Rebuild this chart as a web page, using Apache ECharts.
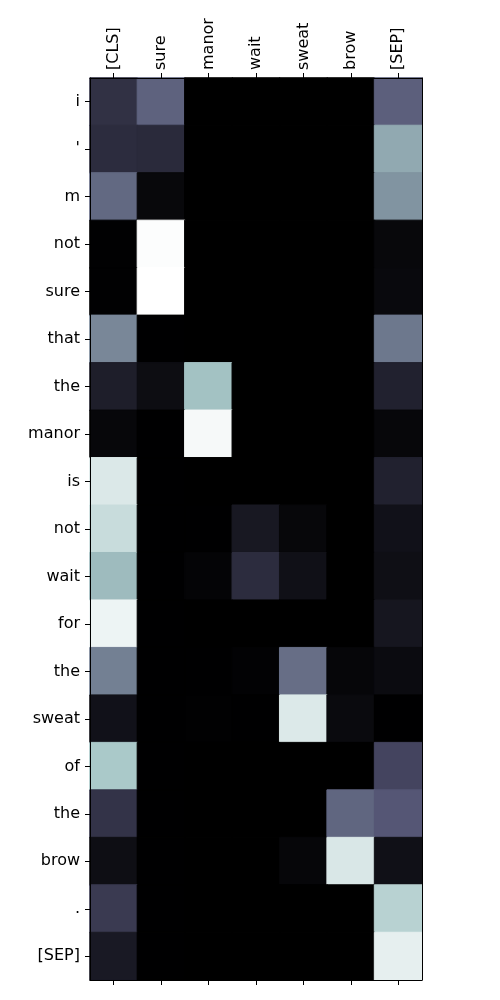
<!DOCTYPE html>
<html><head><meta charset="utf-8">
<script src="https://cdn.jsdelivr.net/npm/echarts@6/dist/echarts.min.js"></script>
<style>html,body{margin:0;padding:0;background:#fff}#c{width:500px;height:1000px}</style>
</head><body><div id="c"></div>
<script>
const colLabels = ["[CLS]","sure","manor","wait","sweat","brow","[SEP]"];
const rowLabels = ["i","'","m","not","sure","that","the","manor","is","not","wait","for","the","sweat","of","the","brow",".","[SEP]"];
// attention weights, one array per row, columns follow colLabels
const r00 = [0.22,0.42,0,0,0,0,0.41];
const r01 = [0.20,0.19,0,0,0,0,0.65];
const r02 = [0.44,0.035,0,0,0,0,0.58];
const r03 = [0.005,0.99,0,0,0,0,0.035];
const r04 = [0.005,1.0,0,0,0,0,0.04];
const r05 = [0.54,0.002,0,0,0,0,0.49];
const r06 = [0.135,0.06,0.73,0,0,0,0.15];
const r07 = [0.03,0.002,0.974,0,0,0,0.03];
const r08 = [0.896,0.002,0,0,0,0,0.15];
const r09 = [0.842,0.002,0.002,0.11,0.03,0,0.08];
const r10 = [0.71,0.002,0.02,0.20,0.075,0,0.07];
const r11 = [0.948,0.002,0,0,0,0,0.10];
const r12 = [0.515,0.002,0.002,0.013,0.46,0.027,0.05];
const r13 = [0.08,0.002,0.005,0.002,0.90,0.045,0.002];
const r14 = [0.756,0.002,0,0,0,0,0.305];
const r15 = [0.23,0.002,0,0,0,0.43,0.38];
const r16 = [0.065,0.002,0,0,0.027,0.89,0.075];
const r17 = [0.26,0.002,0,0,0,0,0.796];
const r18 = [0.115,0.002,0,0,0,0,0.928];
const rows = [r00,r01,r02,r03,r04,r05,r06,r07,r08,r09,r10,r11,r12,r13,r14,r15,r16,r17,r18];

// matplotlib "bone" colormap
function bone(v){
  function seg(pts){for(let i=1;i<pts.length;i++){if(v<=pts[i][0]){const a=pts[i-1],b=pts[i];return a[1]+(v-a[0])/(b[0]-a[0])*(b[1]-a[1]);}}return 1;}
  const r=seg([[0,0],[0.746032,0.652778],[1,1]]);
  const g=seg([[0,0],[0.365079,0.319444],[0.746032,0.777778],[1,1]]);
  const b=seg([[0,0],[0.365079,0.444444],[1,1]]);
  const h=x=>Math.round(Math.min(1,Math.max(0,x))*255).toString(16).padStart(2,'0');
  return '#'+h(r)+h(g)+h(b);
}
const stops=[];for(let i=0;i<=64;i++)stops.push(bone(i/64));

const data=[];
rows.forEach((row,ri)=>row.forEach((v,ci)=>data.push({value:[ci,ri,v],itemStyle:{borderColor:bone(v),borderWidth:1}})));

const font={fontFamily:'DejaVu Sans',fontSize:16,color:'#000'};
const tick={show:true,alignWithLabel:true,length:5,lineStyle:{color:'#000',width:1}};
const line={show:true,lineStyle:{color:'#000',width:1}};
const chart=echarts.init(document.getElementById('c'),null,{renderer:'canvas'});
chart.setOption({
  animation:false,
  grid:{left:90,right:78,top:78,bottom:20,show:false},
  xAxis:[
    {type:'category',data:colLabels,position:'top',z:10,
     axisLine:line,axisTick:tick,
     axisLabel:Object.assign({rotate:-90,margin:8,interval:0},font),splitLine:{show:false}},
    {type:'category',data:colLabels,position:'bottom',z:10,
     axisLine:line,axisTick:tick,
     axisLabel:{show:false},splitLine:{show:false}}
  ],
  yAxis:[
    {type:'category',data:rowLabels,inverse:true,position:'left',z:10,
     axisLine:line,axisTick:tick,
     axisLabel:Object.assign({margin:10,interval:0},font),splitLine:{show:false}},
    {type:'category',data:rowLabels,inverse:true,position:'right',z:10,
     axisLine:line,axisTick:{show:false},
     axisLabel:{show:false},splitLine:{show:false}}
  ],
  visualMap:{show:false,min:0,max:1,seriesIndex:0,inRange:{color:stops}},
  series:[{type:'heatmap',data:data,emphasis:{disabled:true},z:1}]
});
</script></body></html>
